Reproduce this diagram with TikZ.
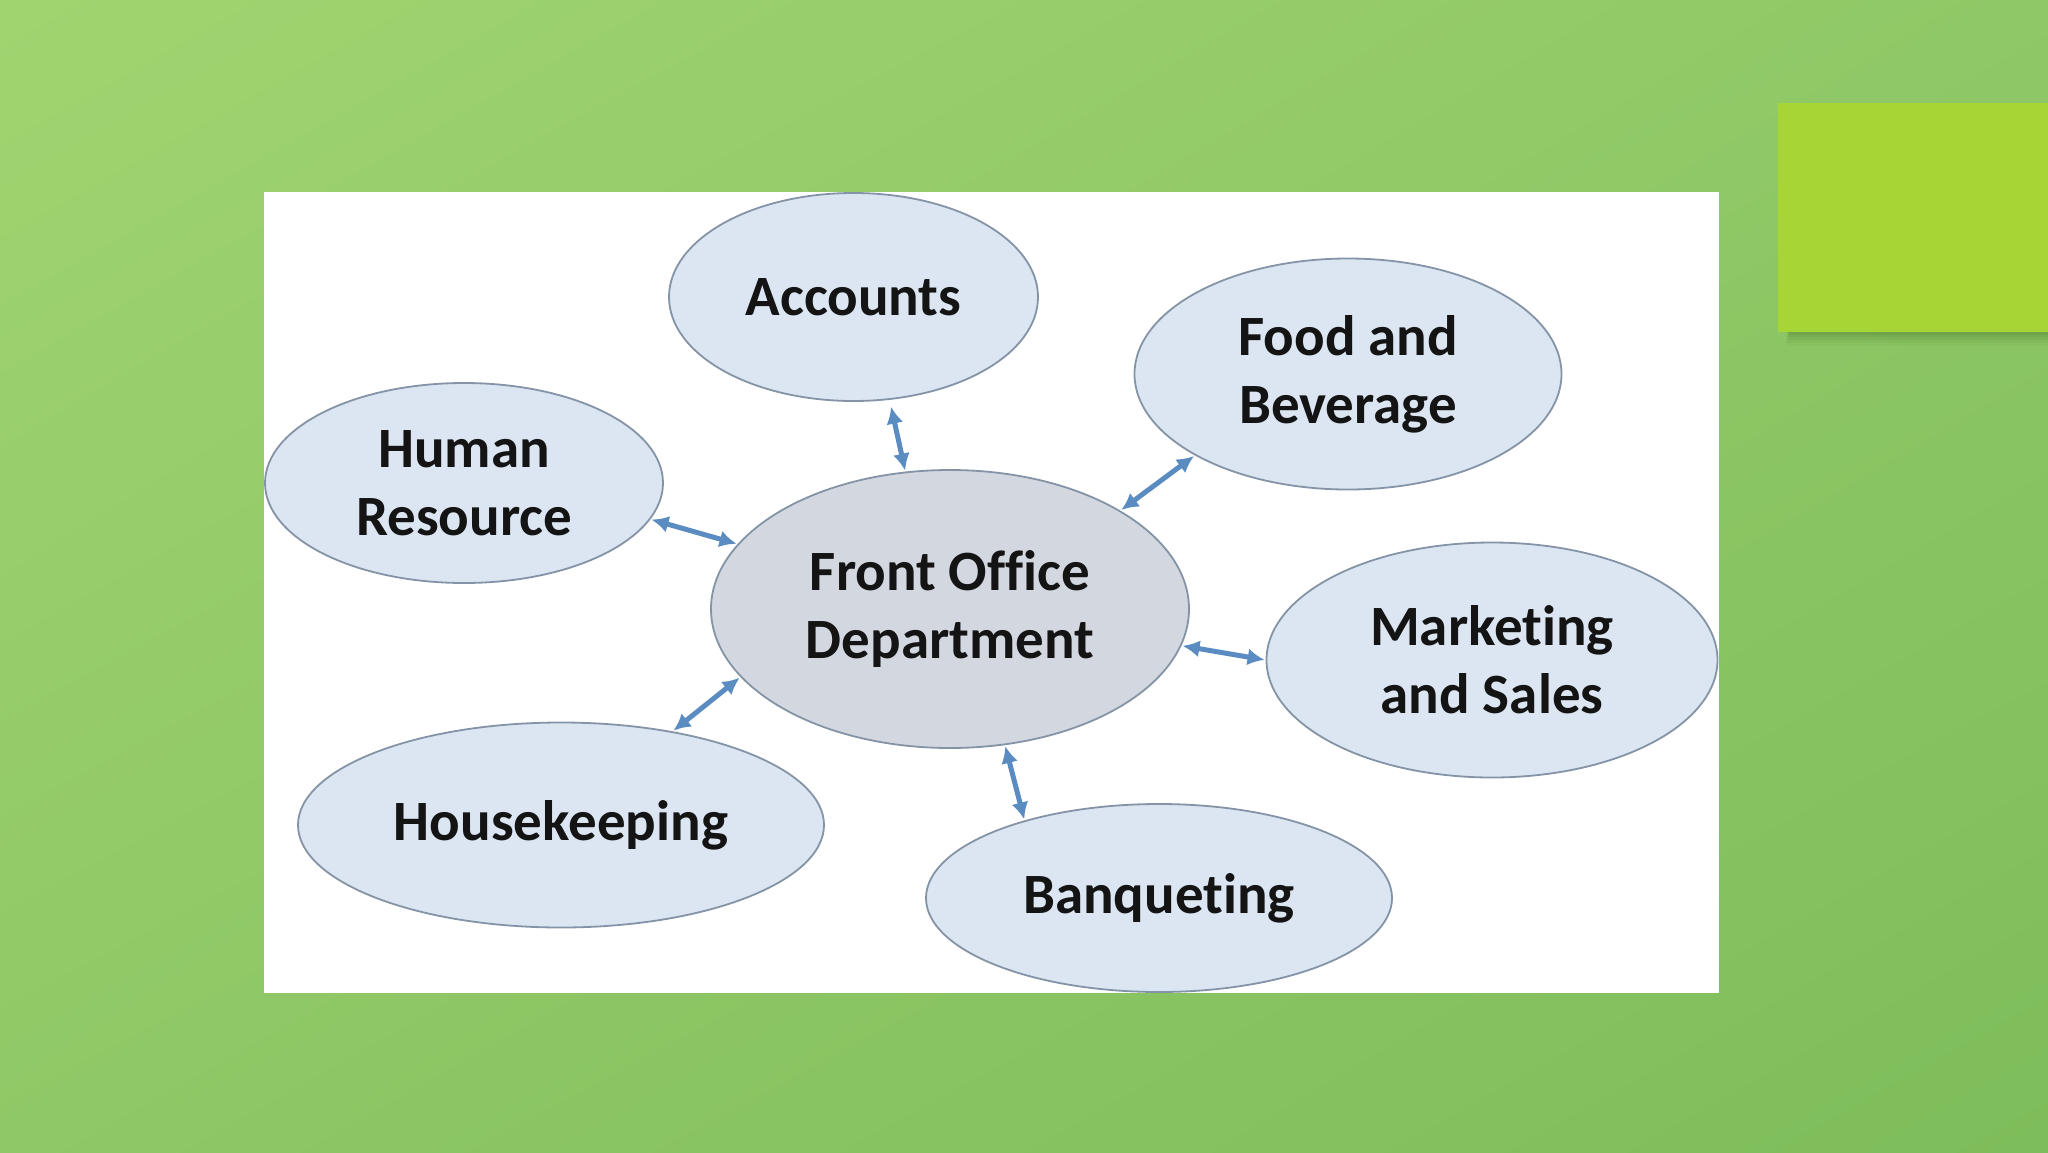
\documentclass[tikz,border=0pt]{standalone}
\usepackage{fontspec}
\setmainfont[RawFeature={-liga;-clig;-calt;-dlig}]{Carlito}
\usetikzlibrary{shapes.geometric,arrows.meta,shadings}
\definecolor{bgA}{HTML}{A0D46F}
\definecolor{bgM}{HTML}{8FC866}
\definecolor{bgB}{HTML}{7EBD5B}
\definecolor{sq}{HTML}{A7D536}
\definecolor{sqshadow}{HTML}{4F7A2A}
\definecolor{ellfill}{HTML}{DCE6F2}
\definecolor{ctrfill}{HTML}{D3D8E0}
\definecolor{ellline}{HTML}{8494A6}
\definecolor{arr}{HTML}{5A8CC2}
\tikzset{
  dept/.style={ellipse, draw=ellline, line width=1.8pt, fill=ellfill, inner sep=0pt,
    align=center, font=\fontsize{57}{68}\selectfont\bfseries, text=black!92},
  link/.style={draw=arr, line width=5pt, {Latex[length=17pt,width=17pt]}-{Latex[length=17pt,width=17pt]}, shorten <=1pt, shorten >=1pt}
}
\begin{document}
\begin{tikzpicture}[x=1pt,y=-1pt]
\useasboundingbox (0,0) rectangle (2048,1152);
\shade[upper left=bgA, upper right=bgM, lower left=bgM, lower right=bgB] (0,0) rectangle (2048,1152);
% top-right square with soft shadow
\foreach \d/\o in {14/0.06, 11/0.08, 8/0.10, 5/0.12, 3/0.14}
  \fill[sqshadow, opacity=\o] (1790-\d*0.3,332) rectangle (2048,332+\d);
\fill[sq] (1778,103) rectangle (2048,332);
% white panel
\fill[white] (264,192) rectangle (1719,993);
% departments
\node[dept, fill=ctrfill, minimum width=478pt, minimum height=278pt] (fo) at (950,609) {Front Office\\Department};
\node[dept, minimum width=369pt, minimum height=208pt] (acc) at (853.5,297) {Accounts};
\node[dept, minimum width=427pt, minimum height=231pt] (fb) at (1348,374) {Food and\\Beverage};
\node[dept, minimum width=398pt, minimum height=200pt] (hr) at (464,483) {Human\\Resource};
\node[dept, minimum width=451pt, minimum height=235pt] (mk) at (1492,660) {Marketing\\and Sales};
\node[dept, minimum width=526pt, minimum height=205pt] (hk) at (561,825) {Housekeeping};
\node[dept, minimum width=466pt, minimum height=188pt] (bq) at (1159,898) {Banqueting};
% links
\draw[link] (fo.108) -- ([yshift=-6pt]acc.-70);
\draw[link] (fo.30) -- (fb.-152);
\draw[link] (fo.163) -- (hr.-11);
\draw[link] (fo.-162) -- (hk.40);
\draw[link] (fo.-9) -- (mk.180);
\draw[link] (fo.-68) -- (bq.150);
\end{tikzpicture}
\end{document}
